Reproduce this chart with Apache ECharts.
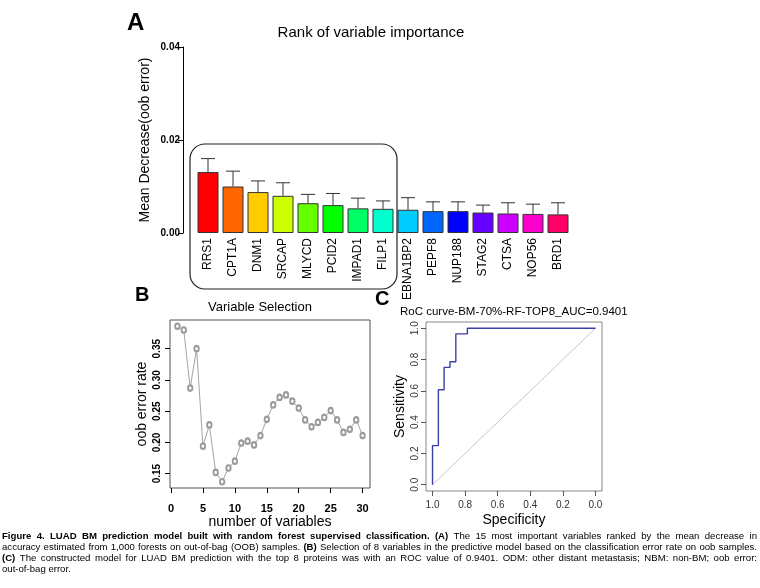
<!DOCTYPE html>
<html>
<head>
<meta charset="utf-8">
<script src="https://cdn.jsdelivr.net/npm/echarts@6/dist/echarts.min.js"></script>
<style>
html,body{margin:0;padding:0;background:#fff;}
#chart{width:760px;height:588px;}
</style>
</head>
<body>
<div id="chart"></div>
<script>
// ---- Panel A data ----
const categories = ['RRS1','CPT1A','DNM1','SRCAP','MLYCD','PCID2','IMPAD1','FILP1','EBNA1BP2','PEPF8','NUP188','STAG2','CTSA','NOP56','BRD1'];
const importance = [0.0131,0.0100,0.0088,0.0080,0.0064,0.0060,0.0053,0.0052,0.0050,0.0047,0.0047,0.0044,0.0042,0.0041,0.0040];
const importanceUpper = [0.0160,0.0133,0.0112,0.0108,0.0083,0.0085,0.0075,0.0069,0.0076,0.0067,0.0067,0.0060,0.0065,0.0062,0.0065];
const barColors = ['#FF0000','#FF6600','#FFCC00','#CCFF00','#66FF00','#00FF00','#00FF66','#00FFCC','#00CCFF','#0066FF','#0000FF','#6600FF','#CC00FF','#FF00CC','#FF0066'];
const importanceTicks = [0, 0.02, 0.04];

// ---- Panel B data ----
const nVariables = [1,2,3,4,5,6,7,8,9,10,11,12,13,14,15,16,17,18,19,20,21,22,23,24,25,26,27,28,29,30];
const oobError = [0.386,0.380,0.287,0.350,0.194,0.228,0.152,0.137,0.159,0.170,0.199,0.202,0.196,0.211,0.237,0.260,0.272,0.276,0.266,0.255,0.236,0.225,0.232,0.240,0.251,0.236,0.216,0.221,0.236,0.211];
const nVarTicks = [0,5,10,15,20,25,30];
const oobTicks = [0.15,0.20,0.25,0.30,0.35];

// ---- Panel C data ----
const rocSpecificity = [1.000,1.000,0.964,0.964,0.929,0.929,0.893,0.893,0.857,0.857,0.786,0.786,0.000];
const rocSensitivity = [0.000,0.250,0.250,0.607,0.607,0.750,0.750,0.786,0.786,0.964,0.964,1.000,1.000];
const rocTicks = [0.0,0.2,0.4,0.6,0.8,1.0];

// ---- Caption (segments: [text, bold]) ----
const captionLines = [
  [['Figure 4. LUAD BM prediction model built with random forest supervised classification. (A)', true], [' The 15 most important variables ranked by the mean decrease in', false]],
  [['accuracy estimated from 1,000 forests on out-of-bag (OOB) samples. ', false], ['(B)', true], [' Selection of 8 variables in the predictive model based on the classification error rate on oob samples.', false]],
  [['(C)', true], [' The constructed model for LUAD BM prediction with the top 8 proteins was with an ROC value of 0.9401. ODM: other distant metastasis; NBM: non-BM; oob error:', false]],
  [['out-of-bag error.', false]]
];

const FONT = 'Liberation Sans, Arial, sans-serif';
const CAP_SIZE = 9.6;

const chart = echarts.init(document.getElementById('chart'), null, {renderer:'canvas'});

const barData = importance.map((v,i)=>({value:v, itemStyle:{color:barColors[i]}}));
const errData = importance.map((v,i)=>[i, v, importanceUpper[i]]);
const oobData = nVariables.map((n,i)=>[n, oobError[i]]);
const rocData = rocSpecificity.map((s,i)=>[s, rocSensitivity[i]]);

const graphics = [
  {type:'text', left:127, top:11, style:{text:'A', font:'bold 24px '+FONT, fill:'#000'}},
  {type:'text', x:371, y:33, style:{text:'Rank of variable importance', font:'15px '+FONT, fill:'#000', align:'center', verticalAlign:'middle'}},
  {type:'rect', shape:{x:190, y:144, width:207, height:145, r:15}, style:{fill:'none', stroke:'#222', lineWidth:1.2}, z:10},
  {type:'text', left:135, top:285, style:{text:'B', font:'bold 20px '+FONT, fill:'#000'}},
  {type:'text', x:260, y:307, style:{text:'Variable Selection', font:'13px '+FONT, fill:'#000', align:'center', verticalAlign:'middle'}},
  {type:'text', left:375, top:289, style:{text:'C', font:'bold 20px '+FONT, fill:'#000'}},
  {type:'text', x:400, y:312, style:{text:'RoC curve-BM-70%-RF-TOP8_AUC=0.9401', font:'11.5px '+FONT, fill:'#000', align:'left', verticalAlign:'middle'}}
];

// justified caption: words placed with measured widths
const measureCtx = document.createElement('canvas').getContext('2d');
function fontOf(bold){ return (bold ? 'bold ' : '') + CAP_SIZE + 'px ' + FONT; }
const capY = [536, 547, 558, 569];
const capLeft = 2, capRight = 757;
captionLines.forEach((segs, li)=>{
  const words = [];
  segs.forEach(([txt, bold])=>{
    txt.split(' ').forEach(w=>{ if (w.length) words.push({w, bold}); });
  });
  let total = 0;
  words.forEach(o=>{ measureCtx.font = fontOf(o.bold); o.width = measureCtx.measureText(o.w).width; total += o.width; });
  measureCtx.font = fontOf(false);
  let gap = measureCtx.measureText(' ').width;
  const justify = li < captionLines.length - 1;
  if (justify && words.length > 1) gap = (capRight - capLeft - total) / (words.length - 1);
  let x = capLeft;
  words.forEach(o=>{
    graphics.push({type:'text', x:x, y:capY[li], style:{text:o.w, font:fontOf(o.bold), fill:'#000', verticalAlign:'middle', align:'left'}});
    x += o.width + gap;
  });
});

const option = {
  backgroundColor:'#fff',
  animation:false,
  textStyle:{fontFamily:FONT},
  grid:[
    {left:195.5, top:47, width:375, height:186, outerBoundsMode:'none'},
    {left:170, top:320, width:200, height:168, show:true, borderColor:'#555', borderWidth:1, backgroundColor:'transparent', outerBoundsMode:'none'},
    {left:426, top:322, width:176, height:169, show:true, borderColor:'#888', borderWidth:1, backgroundColor:'transparent', outerBoundsMode:'none'}
  ],
  xAxis:[
    {gridIndex:0, type:'category', data:categories, axisLine:{show:false, onZero:false}, axisTick:{show:false},
      axisLabel:{interval:0, rotate:90, margin:5, fontSize:12, color:'#000', fontFamily:FONT}},
    {gridIndex:1, type:'value', min:-0.16, max:31.16, splitLine:{show:false}, axisLine:{show:false, onZero:false},
      axisTick:{show:true, length:5, customValues:nVarTicks, lineStyle:{color:'#000'}},
      axisLabel:{customValues:nVarTicks, fontSize:11, fontWeight:'bold', color:'#000', margin:15},
      name:'number of variables', nameLocation:'middle', nameGap:25, nameTextStyle:{fontSize:14, color:'#000', fontFamily:FONT}},
    {gridIndex:2, type:'value', inverse:true, min:-0.04, max:1.04, splitLine:{show:false}, axisLine:{show:false, onZero:false},
      axisTick:{show:true, length:5, customValues:rocTicks, lineStyle:{color:'#555'}},
      axisLabel:{customValues:rocTicks, fontSize:10, color:'#333', margin:9, formatter:v=>v.toFixed(1)},
      name:'Specificity', nameLocation:'middle', nameGap:22, nameTextStyle:{fontSize:14, color:'#000', fontFamily:FONT}}
  ],
  yAxis:[
    {gridIndex:0, type:'value', min:0, max:0.04, interval:0.02, offset:12.5, splitLine:{show:false},
      axisLine:{show:true, onZero:false, lineStyle:{color:'#000'}}, axisTick:{show:true, length:5, lineStyle:{color:'#000'}},
      axisLabel:{fontSize:10, fontWeight:'bold', color:'#000', margin:3, formatter:v=>v.toFixed(2)},
      name:'Mean Decrease(oob error)', nameLocation:'middle', nameGap:31, nameTextStyle:{fontSize:14, color:'#000', fontFamily:FONT}},
    {gridIndex:1, type:'value', min:0.127, max:0.396, splitLine:{show:false}, axisLine:{show:false, onZero:false},
      axisTick:{show:true, length:5, customValues:oobTicks, lineStyle:{color:'#000'}},
      axisLabel:{customValues:oobTicks, rotate:90, fontSize:10, fontWeight:'bold', color:'#000', margin:8, formatter:v=>v.toFixed(2)},
      name:'oob error rate', nameLocation:'middle', nameGap:21, nameTextStyle:{fontSize:14, color:'#000', fontFamily:FONT}},
    {gridIndex:2, type:'value', min:-0.04, max:1.04, splitLine:{show:false}, axisLine:{show:false, onZero:false},
      axisTick:{show:true, length:5, customValues:rocTicks, lineStyle:{color:'#555'}},
      axisLabel:{customValues:rocTicks, rotate:90, fontSize:10, color:'#333', margin:6, formatter:v=>v.toFixed(1)},
      name:'Sensitivity', nameLocation:'middle', nameGap:19, nameTextStyle:{fontSize:14, color:'#000', fontFamily:FONT}}
  ],
  series:[
    {type:'bar', xAxisIndex:0, yAxisIndex:0, data:barData, barWidth:21,
      itemStyle:{borderColor:'#333', borderWidth:1}},
    {type:'custom', xAxisIndex:0, yAxisIndex:0, data:errData, z:5,
      renderItem:function(params, api){
        const base = api.coord([api.value(0), api.value(1)]);
        const top = api.coord([api.value(0), api.value(2)]);
        const cap = 7;
        return {type:'group', children:[
          {type:'line', shape:{x1:base[0], y1:base[1], x2:top[0], y2:top[1]}, style:{stroke:'#333', lineWidth:1}},
          {type:'line', shape:{x1:top[0]-cap, y1:top[1], x2:top[0]+cap, y2:top[1]}, style:{stroke:'#333', lineWidth:1}}
        ]};
      }},
    {type:'line', xAxisIndex:1, yAxisIndex:1, data:oobData, symbol:'emptyCircle', symbolSize:[4.5,5.5],
      lineStyle:{color:'#8c8c8c', width:0.8}, itemStyle:{color:'#9a9a9a', borderWidth:0.8}},
    {type:'line', xAxisIndex:2, yAxisIndex:2, data:[[1,0],[0,1]], symbol:'none', lineStyle:{color:'#c8c8c8', width:1}},
    {type:'line', xAxisIndex:2, yAxisIndex:2, data:rocData, symbol:'none', lineStyle:{color:'#3b3ea6', width:1.4}}
  ],
  graphic:graphics
};
chart.setOption(option);
</script>
</body>
</html>
